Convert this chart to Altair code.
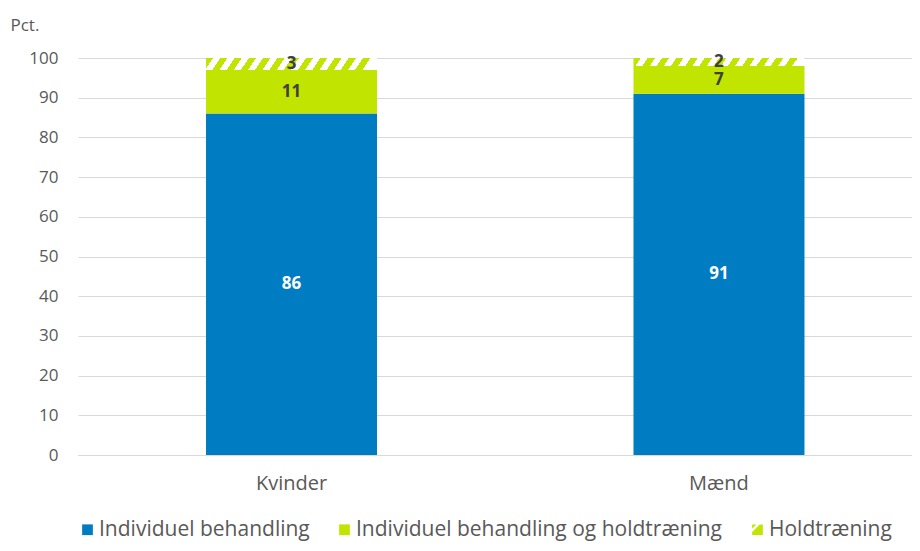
import altair as alt
import pandas as pd

# ---- data ----
genders = ["Kvinder", "Mænd"]
types = ["Individuel behandling", "Individuel behandling og holdtræning", "Holdtræning"]
kvinder = [86, 11, 3]
maend = [91, 7, 2]
y_ticks = list(range(0, 101, 10))

# ---- styles ----
BLUE = "#007CC3"
LIME = "#C2E500"
TXT = "#595959"
DARK = "#404040"
GRID = "#D9D9D9"
FONT = "Open Sans"
colors = [BLUE, LIME, LIME]
hatch_icon = "M-1,-1L-0.2,-1L-1,-0.2Z M0.4,-1L1,-1L1,1L-1,1L-1,0.4Z"

rows = []
for g, vals in zip(genders, [kvinder, maend]):
    for i, (t, v) in enumerate(zip(types, vals)):
        rows.append({"gender": g, "type": t, "value": v, "order": i})
df = pd.DataFrame(rows)


def hatch(dy, n=12):
    stops = []
    for i in range(n):
        a, b, c = i / n, (i + 0.5) / n, (i + 1) / n
        stops += [
            alt.GradientStop(offset=a, color=LIME),
            alt.GradientStop(offset=b, color=LIME),
            alt.GradientStop(offset=b, color="white"),
            alt.GradientStop(offset=c, color="white"),
        ]
    return alt.LinearGradient(gradient="linear", stops=stops, x1=0, y1=0, x2=1, y2=dy)


base = alt.Chart(df).transform_stack(
    stack="value", as_=["v0", "v1"], groupby=["gender"],
    sort=[alt.SortField("order", "ascending")]
)

x = alt.X(
    "gender:N", sort=genders,
    scale=alt.Scale(paddingInner=0.6, paddingOuter=0.2755, align=0.5435),
    axis=alt.Axis(title=None, labelAngle=0, labelFontSize=20, labelColor=TXT,
                  labelFont=FONT, labelPadding=18, ticks=False, tickSize=0,
                  domainColor=GRID, domainWidth=1),
)
y_scale = alt.Scale(domain=[0, 100], nice=False)
y_axis = alt.Axis(values=y_ticks, title="Pct.", titleAngle=0, titleX=-68, titleY=-28,
                  titleAlign="left", titleBaseline="alphabetic", titleFontWeight="normal",
                  titleFontSize=17, titleColor=TXT, titleFont=FONT,
                  labelFontSize=17, labelColor=TXT, labelFont=FONT, labelPadding=20,
                  ticks=False, tickSize=0, domain=False, gridColor=GRID, gridWidth=1)

color_scale = alt.Scale(domain=types, range=colors)
shape_scale = alt.Scale(domain=types, range=["square", "square", hatch_icon])

leg = dict(orient="none", legendX=-1, legendY=461, direction="horizontal", title=None,
           labelFontSize=21, labelColor=TXT, labelFont=FONT, symbolSize=115,
           symbolStrokeWidth=0, columnPadding=24, labelOffset=1, labelLimit=1000,
           padding=0, symbolOpacity=1)

bars = base.transform_filter("datum.order < 2").mark_bar().encode(
    x=x,
    y=alt.Y("v0:Q", scale=y_scale, axis=y_axis),
    y2="v1:Q",
    color=alt.Color("type:N", scale=color_scale, legend=alt.Legend(**leg)),
)

H = {"Kvinder": 3 * 3.97, "Mænd": 2 * 3.97}
hatch_layers = []
for g in genders:
    dy = 0.67 * H[g] / 171.0
    hatch_layers.append(
        base.transform_filter(f"datum.order == 2 && datum.gender == '{g}'")
        .mark_bar(fill=hatch(dy))
        .encode(x=x, y=alt.Y("v0:Q", scale=y_scale, axis=y_axis), y2="v1:Q")
    )

labels = base.transform_calculate(mid="(datum.v0 + datum.v1) / 2").mark_text(
    font=FONT, fontWeight="bold", fontSize=17
).encode(
    x=x,
    y=alt.Y("mid:Q", scale=y_scale, axis=y_axis),
    text="value:Q",
    color=alt.condition("datum.order == 0", alt.value("white"), alt.value(DARK)),
)

legend_layer = base.transform_filter("false").mark_point(filled=True, opacity=1).encode(
    x=x,
    y=alt.Y("v0:Q", scale=y_scale, axis=y_axis),
    color=alt.Color("type:N", scale=color_scale, legend=alt.Legend(**leg)),
    shape=alt.Shape("type:N", scale=shape_scale, legend=alt.Legend(**leg)),
)

chart = alt.layer(bars, *hatch_layers, labels, legend_layer).properties(
    width=834, height=397,
    padding={"left": 70, "top": 50, "right": 0, "bottom": 88},
    autosize=alt.AutoSizeParams(type="none"),
    background="white",
).configure(font=FONT).configure_view(stroke=None)

chart.save("out.html", embed_options={"renderer": "svg", "actions": False})
